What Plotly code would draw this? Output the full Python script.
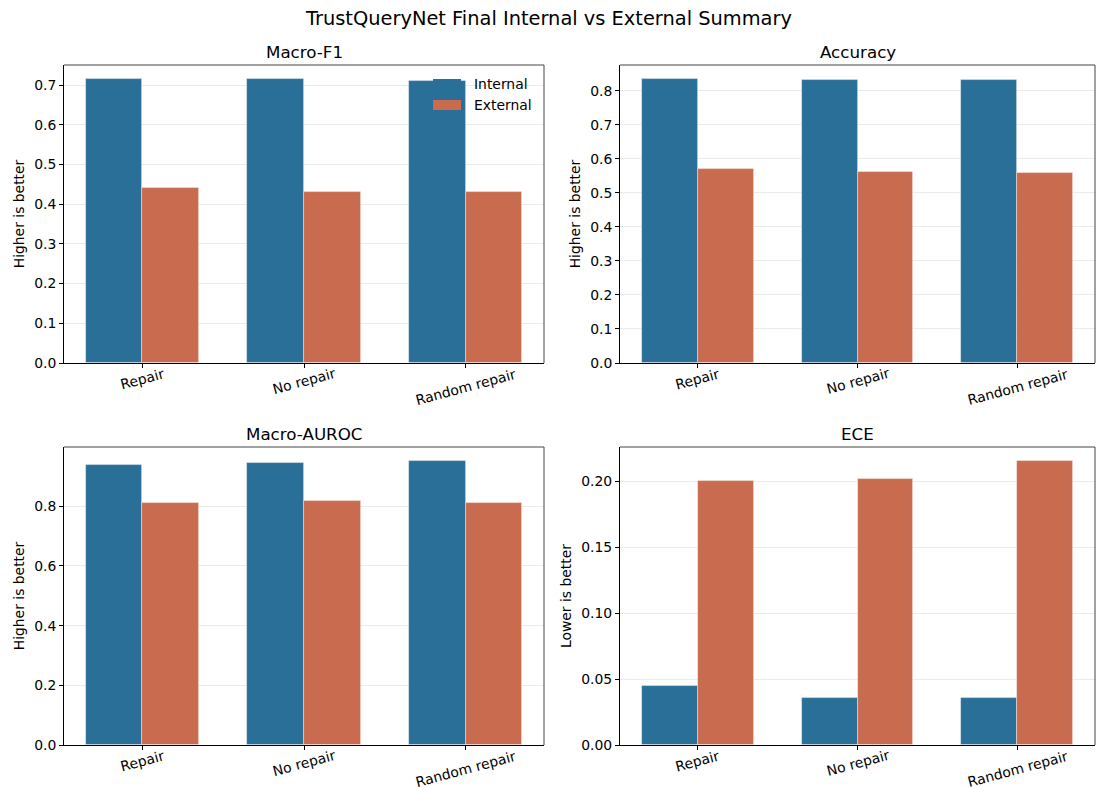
import plotly.graph_objects as go

categories = ["Repair", "No repair", "Random repair"]
f1_internal = [0.715, 0.715, 0.711]
f1_external = [0.442, 0.430, 0.432]
acc_internal = [0.834, 0.831, 0.831]
acc_external = [0.569, 0.562, 0.559]
auroc_internal = [0.937, 0.945, 0.951]
auroc_external = [0.810, 0.816, 0.810]
ece_internal = [0.0445, 0.0354, 0.0354]
ece_external = [0.2002, 0.2018, 0.2152]
series_names = ["Internal", "External"]

panels = [
    ("Macro-F1", f1_internal, f1_external, "Higher is better", 0.1, "0.1f"),
    ("Accuracy", acc_internal, acc_external, "Higher is better", 0.1, "0.1f"),
    ("Macro-AUROC", auroc_internal, auroc_external, "Higher is better", 0.2, "0.1f"),
    ("ECE", ece_internal, ece_external, "Lower is better", 0.05, "0.2f"),
]

W, H = 1096, 787
C_INT = "#2a6f97"
C_EXT = "#c96b4f"
FONT = "DejaVu Sans"
TICK = 13.9

xdomains = [(64 / W, 544 / W), (620 / W, 1095 / W)]
ydomains = [(1 - 363 / H, 1 - 65 / H), (1 - 745 / H, 1 - 447 / H)]

fig = go.Figure()
layout = {}
annotations = []
shapes = []
xpos = list(range(len(categories)))
bw = 0.35

for i, (title, vi, ve, ylab, dtick, fmt) in enumerate(panels):
    r, c = divmod(i, 2)
    n = "" if i == 0 else str(i + 1)
    xa, ya = "x" + n, "y" + n
    fig.add_trace(go.Bar(
        x=[p - bw / 2 for p in xpos], y=vi, width=bw, name=series_names[0],
        marker=dict(color=C_INT, line=dict(color="rgba(255,255,255,0.5)", width=0.8)),
        xaxis=xa, yaxis=ya, showlegend=False,
    ))
    fig.add_trace(go.Bar(
        x=[p + bw / 2 for p in xpos], y=ve, width=bw, name=series_names[1],
        marker=dict(color=C_EXT, line=dict(color="rgba(255,255,255,0.5)", width=0.8)),
        xaxis=xa, yaxis=ya, showlegend=False,
    ))
    ymax = max(max(vi), max(ve)) * 1.05
    layout["xaxis" + n] = dict(
        domain=xdomains[c], anchor=ya, range=[-0.485, 2.485],
        tickvals=xpos, showticklabels=False,
        ticks="outside", ticklen=4, tickcolor="black", showline=True,
        linecolor="black", linewidth=1, showgrid=False, zeroline=False,
        automargin=False,
    )
    layout["yaxis" + n] = dict(
        domain=ydomains[r], anchor=xa, range=[0, ymax], dtick=dtick, tick0=0,
        tickformat=fmt, ticks="outside", ticklen=4, tickcolor="black",
        showline=True, linecolor="black", linewidth=1, showgrid=True,
        gridcolor="#ebebeb", gridwidth=1, zeroline=False,
        tickfont=dict(size=TICK, color="black"), automargin=False,
        title=dict(text=ylab, font=dict(size=TICK, color="black"), standoff=6),
    )
    # rotated, centred category labels
    for p, cat in zip(xpos, categories):
        annotations.append(dict(
            text=cat, xref=xa, yref=ya + " domain", x=p, y=0,
            xanchor="center", yanchor="top", yshift=0, textangle=-15,
            showarrow=False, font=dict(size=TICK, color="black"),
        ))
    # top & right spines
    shapes.append(dict(type="line", xref=xa + " domain", yref=ya + " domain",
                       x0=0, x1=1, y0=1, y1=1, line=dict(color="#444", width=1)))
    shapes.append(dict(type="line", xref=xa + " domain", yref=ya + " domain",
                       x0=1, x1=1, y0=0, y1=1, line=dict(color="#444", width=1)))
    annotations.append(dict(
        text=title, xref="paper", yref="paper",
        x=(xdomains[c][0] + xdomains[c][1]) / 2, y=ydomains[r][1] + 1.5 / H,
        xanchor="center", yanchor="bottom", showarrow=False,
        font=dict(size=16.7, color="black"),
    ))

# legend (drawn in first panel, upper right, no frame)
leg = [(series_names[0], C_INT, 84), (series_names[1], C_EXT, 105)]
for name, col, yc in leg:
    shapes.append(dict(type="rect", xref="paper", yref="paper",
                       x0=433 / W, x1=461 / W, y0=1 - (yc + 5) / H, y1=1 - (yc - 5) / H,
                       fillcolor=col, line=dict(width=0)))
    annotations.append(dict(
        text=name, xref="paper", yref="paper", x=472 / W, y=1 - yc / H,
        xanchor="left", yanchor="middle", showarrow=False,
        font=dict(size=TICK, color="black"),
    ))

annotations.append(dict(
    text="TrustQueryNet Final Internal vs External Summary", xref="paper", yref="paper",
    x=0.5, y=1 - 18 / H, xanchor="center", yanchor="middle", showarrow=False,
    font=dict(size=19.4, color="black"),
))

fig.update_layout(
    width=W, height=H, margin=dict(l=0, r=0, t=0, b=0),
    paper_bgcolor="white", plot_bgcolor="white",
    font=dict(family=FONT, color="black"),
    barmode="overlay", bargap=0, showlegend=False,
    annotations=annotations, shapes=shapes,
    **layout,
)

fig.write_html(
    "out.html",
    config={"displayModeBar": False},
    post_script="document.body.style.margin='0';document.body.style.overflow='hidden';",
)
